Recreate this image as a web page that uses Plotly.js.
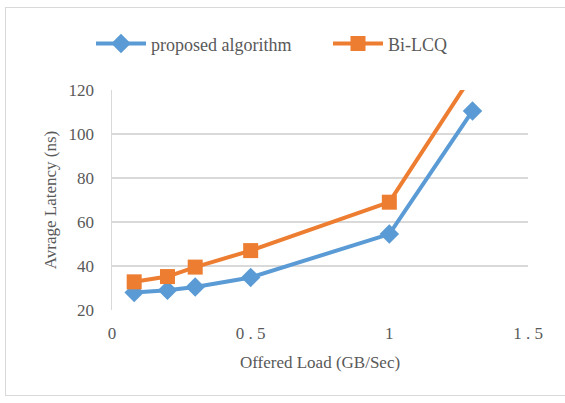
<!DOCTYPE html>
<html>
<head>
<meta charset="utf-8">
<script src="https://cdn.plot.ly/plotly-3.0.1.min.js"></script>
<style>
html,body{margin:0;padding:0;background:#fff;}
#wrap{position:relative;width:565px;height:403px;}
#chart{width:565px;height:403px;}
#frame{position:absolute;left:5px;top:7px;width:570px;height:389px;border:1.5px solid #d9d9d9;pointer-events:none;box-sizing:border-box;}
</style>
</head>
<body>
<div id="wrap"><div id="chart"></div><div id="frame"></div></div>
<script>
const loads = [0.08, 0.2, 0.3, 0.5, 1.0, 1.3];
const proposed = [28, 29, 30.5, 34.8, 54.5, 110.5];
const biLCQ = [32.8, 35.2, 39.5, 47, 69, 127];
const xTickVals = [0, 0.5, 1, 1.5];
const xTickText = ["0", "0 . 5", "1", "1 . 5"];
const yTickVals = [20, 40, 60, 80, 100, 120];

const fam = "Liberation Serif";
const font = {family: fam, color: "#595959", size: 16};

const traces = [
  {x: loads, y: proposed, name: "proposed algorithm", type: "scatter", mode: "lines+markers",
   line: {color: "#5b9bd5", width: 4}, marker: {symbol: "diamond", size: 15, color: "#5b9bd5"}},
  {x: loads, y: biLCQ, name: "Bi-LCQ", type: "scatter", mode: "lines+markers",
   line: {color: "#ed7d31", width: 4}, marker: {symbol: "square", size: 15, color: "#ed7d31"}}
];

const layout = {
  width: 565, height: 403,
  margin: {l: 112, r: 37, t: 90, b: 93},
  paper_bgcolor: "#ffffff", plot_bgcolor: "#ffffff",
  font: font,
  showlegend: true,
  legend: {orientation: "h", x: -0.02, xanchor: "left", y: 1.21, yanchor: "middle",
           font: {family: fam, color: "#595959", size: 18}, itemwidth: 50, entrywidth: 172, tracegroupgap: 0},
  xaxis: {range: [0, 1.5], tickvals: xTickVals, ticktext: xTickText, showgrid: false, zeroline: false,
          showline: false, ticks: "", ticklabelstandoff: 11, tickfont: {family: fam, size: 17, color: "#595959"},
          title: {text: "Offered Load (GB/Sec)", font: {family: fam, size: 17, color: "#595959"}, standoff: 14}},
  yaxis: {range: [20, 120], tickvals: yTickVals, showgrid: true, gridcolor: "#d9d9d9", gridwidth: 1.5,
          zeroline: false, showline: true, linecolor: "#d9d9d9", linewidth: 1.5, ticks: "",
          ticklabelstandoff: 13, tickfont: {family: fam, size: 17, color: "#595959"},
          title: {text: "Avrage Latency (ns)", font: {family: fam, size: 17, color: "#595959"}, standoff: 7}}
};

Plotly.newPlot("chart", traces, layout, {displayModeBar: false, staticPlot: true});
</script>
</body>
</html>
